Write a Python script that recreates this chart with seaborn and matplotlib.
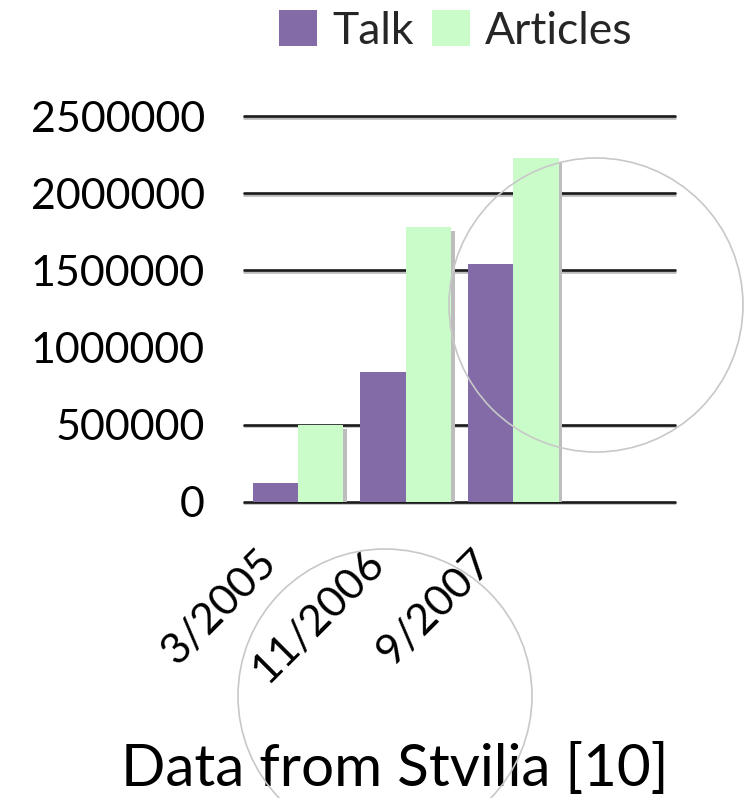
import matplotlib
matplotlib.use("Agg")
import matplotlib.pyplot as plt
import matplotlib.patheffects as pe
from matplotlib.patches import Ellipse, Patch
from matplotlib.transforms import ScaledTranslation
import seaborn as sns
import pandas as pd

categories = ["3/2005", "11/2006", "9/2007"]
series = ["Talk", "Articles"]
talk_values = [120000, 840000, 1540000]
article_values = [500000, 1780000, 2230000]
y_ticks = [0, 500000, 1000000, 1500000, 2000000, 2500000]
colors = {"Talk": "#836BA8", "Articles": "#CAFCCA"}

df = pd.DataFrame({
    "date": categories * 2,
    "series": ["Talk"] * 3 + ["Articles"] * 3,
    "value": talk_values + article_values,
})

sns.set_theme(style="white")
plt.rcParams["font.family"] = ["Lato", "DejaVu Sans"]

fig = plt.figure(figsize=(7.46, 7.98), dpi=100)
ax = fig.add_axes([0.327, 0.3713, 0.578, 0.483])

sns.barplot(data=df, x="date", y="value", hue="series", order=categories,
            hue_order=series, palette=colors, width=0.84, saturation=1,
            ax=ax, legend=False, zorder=3)

for p in ax.patches:
    p.set_edgecolor("none")
    p.set_path_effects([pe.SimplePatchShadow(offset=(2.6, -3), shadow_rgbFace="#bdbdbd", alpha=1.0),
                        pe.Normal()])

ax.set_xlim(-0.5, 3.5)
ax.set_ylim(0, 2500000)
ax.set_yticks(y_ticks)
ax.set_yticklabels([str(v) for v in y_ticks], fontsize=31, color="black")
ax.yaxis.grid(True, color="#1a1a1a", linewidth=1.9, zorder=1)
ax.set_axisbelow(True)
for i, gl in enumerate(ax.get_ygridlines()):
    gl.set_clip_on(False)
    gl.set_path_effects([pe.SimpleLineShadow(offset=(0, -1), shadow_color="#bbbbbb", alpha=1.0),
                         pe.Normal()])
    if y_ticks[i] == 1000000:
        gl.set_visible(False)
for s in ax.spines.values():
    s.set_visible(False)
ax.tick_params(axis="y", length=0, pad=28)
ax.tick_params(axis="x", length=0, pad=8)
ax.set_xlabel("")
ax.set_ylabel("")
ax.set_xticks(range(len(categories)))
ax.set_xticklabels(categories, rotation=45, ha="right", rotation_mode="anchor",
                   fontsize=31, color="black")
off = ScaledTranslation(-42 / 100, -30 / 100, fig.dpi_scale_trans)
for lab in ax.get_xticklabels():
    lab.set_transform(lab.get_transform() + off)

handles = [Patch(facecolor=colors[s], edgecolor="none", label=s) for s in series]
fig.legend(handles=handles, loc="center", bbox_to_anchor=(456 / 746, 1 - 31 / 798),
           ncol=2, frameon=False, fontsize=32, handlelength=0.85, handleheight=0.85,
           handletextpad=0.35, columnspacing=0.4, borderpad=0)

fig.text(395 / 746, 1 - 786 / 798, "Data from Stvilia [10]", ha="center",
         va="baseline", fontsize=42, color="black")

for cx, cy in [(596, 305), (385, 696)]:
    fig.patches.append(Ellipse((cx / 746, 1 - cy / 798), 294 / 746, 294 / 798,
                               transform=fig.transFigure, fill=False,
                               edgecolor="#c8c8c8", linewidth=1.2, zorder=10))

fig.savefig("out.png", dpi=100)
